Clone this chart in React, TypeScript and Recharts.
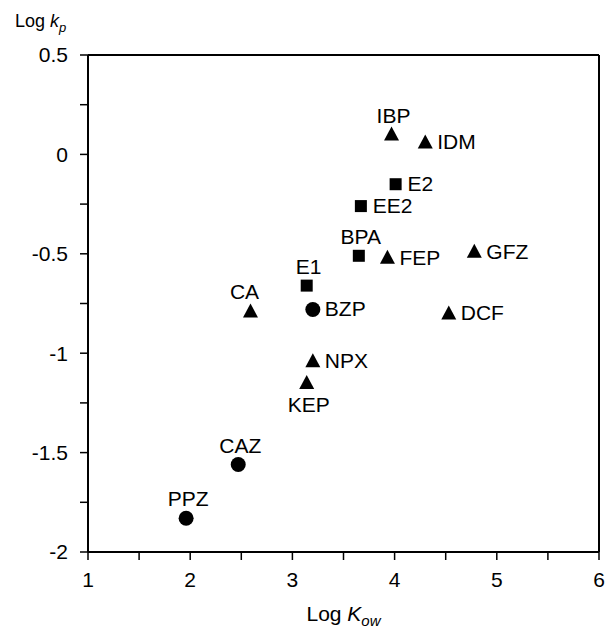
import { ScatterChart, Scatter, XAxis, YAxis, ReferenceLine } from "recharts";

// Log Kow (x) vs Log kp (y), grouped by marker shape
const triangleNames = ["IBP", "IDM", "FEP", "GFZ", "CA", "DCF", "NPX", "KEP"];
const triangleLogKow = [3.97, 4.3, 3.93, 4.78, 2.59, 4.53, 3.2, 3.14];
const triangleLogKp = [0.1, 0.06, -0.52, -0.49, -0.79, -0.8, -1.04, -1.15];

const squareNames = ["E2", "EE2", "BPA", "E1"];
const squareLogKow = [4.01, 3.67, 3.65, 3.14];
const squareLogKp = [-0.15, -0.26, -0.51, -0.66];

const circleNames = ["BZP", "CAZ", "PPZ"];
const circleLogKow = [3.2, 2.47, 1.96];
const circleLogKp = [-0.78, -1.56, -1.83];

const xTicks = [1, 1.5, 2, 2.5, 3, 3.5, 4, 4.5, 5, 5.5, 6];
const yTicks = [-2, -1.75, -1.5, -1.25, -1, -0.75, -0.5, -0.25, 0, 0.25, 0.5];

// where each compound's name sits relative to its marker
const labelSide: Record<string, "top" | "right" | "bottom"> = {
  IBP: "top",
  BPA: "top",
  E1: "top",
  CA: "top",
  CAZ: "top",
  PPZ: "top",
  KEP: "bottom",
};

const FONT = "'Liberation Sans', Arial, Helvetica, sans-serif";

const toRows = (names: string[], xs: number[], ys: number[]) =>
  names.map((name, i) => ({ name, x: xs[i], y: ys[i] }));

const triangles = toRows(triangleNames, triangleLogKow, triangleLogKp);
const squares = toRows(squareNames, squareLogKow, squareLogKp);
const circles = toRows(circleNames, circleLogKow, circleLogKp);

function PointLabel({ cx, cy, name }: { cx: number; cy: number; name: string }) {
  const side = labelSide[name] || "right";
  let x = cx + 12;
  let y = cy + 7;
  let anchor: "start" | "middle" = "start";
  if (side === "top") {
    x = name === "CA" ? cx - 6 : cx + 2;
    y = cy - 12;
    anchor = "middle";
  } else if (side === "bottom") {
    x = cx + 2;
    y = cy + 29;
    anchor = "middle";
  }
  return (
    <text x={x} y={y} textAnchor={anchor} fontSize={21} fontFamily={FONT} fill="#000">
      {name}
    </text>
  );
}

const makeShape = (kind: "triangle" | "square" | "circle") => (props: any) => {
  const { cx, cy, payload } = props;
  if (cx == null || cy == null) return <g />;
  let mark;
  if (kind === "triangle") {
    mark = <polygon points={`${cx},${cy - 8} ${cx + 7.5},${cy + 6} ${cx - 7.5},${cy + 6}`} fill="#000" />;
  } else if (kind === "square") {
    mark = <rect x={cx - 6} y={cy - 6} width={12} height={12} fill="#000" />;
  } else {
    mark = <circle cx={cx} cy={cy} r={7.5} fill="#000" />;
  }
  return (
    <g>
      {mark}
      <PointLabel cx={cx} cy={cy} name={payload.name} />
    </g>
  );
};

const XTitle = (props: any) => {
  const vb = props.viewBox || {};
  return (
    <text x={vb.x + vb.width / 2} y={vb.y + 69} textAnchor="middle" fontSize={21} fontFamily={FONT} fill="#000">
      Log{" "}
      <tspan fontStyle="italic">K</tspan>
      <tspan fontStyle="italic" fontSize={15} dy={5}>
        ow
      </tspan>
    </text>
  );
};

const YTitle = (props: any) => {
  const vb = props.viewBox || {};
  return (
    <text x={vb.x + 15} y={vb.y - 28} fontSize={18} fontFamily={FONT} fill="#000">
      Log{" "}
      <tspan fontStyle="italic">k</tspan>
      <tspan fontStyle="italic" fontSize={13} dy={5}>
        p
      </tspan>
    </text>
  );
};

export default function App() {
  return (
    <div style={{ position: "absolute", left: 0, top: 0, width: 616, height: 628, background: "#fff" }}>
      <ScatterChart width={616} height={628} margin={{ top: 55, right: 17, bottom: 0, left: 0 }}>
        <XAxis
          type="number"
          dataKey="x"
          domain={[1, 6]}
          ticks={xTicks}
          tickFormatter={(v: number) => (Number.isInteger(v) ? String(v) : "")}
          height={76}
          tickSize={8}
          tickMargin={12}
          axisLine={{ stroke: "#000", strokeWidth: 2 }}
          tickLine={{ stroke: "#000", strokeWidth: 1.5 }}
          tick={{ fill: "#000", fontSize: 21, fontFamily: FONT }}
          label={<XTitle />}
        />
        <YAxis
          type="number"
          dataKey="y"
          domain={[-2, 0.5]}
          ticks={yTicks}
          tickFormatter={(v: number) => (Number.isInteger(v * 2) ? String(v) : "")}
          width={88}
          tickSize={8}
          tickMargin={12}
          axisLine={{ stroke: "#000", strokeWidth: 2 }}
          tickLine={{ stroke: "#000", strokeWidth: 1.5 }}
          tick={{ fill: "#000", fontSize: 21, fontFamily: FONT }}
          label={<YTitle />}
        />
        <ReferenceLine y={0.5} stroke="#000" strokeWidth={2} />
        <ReferenceLine x={6} stroke="#000" strokeWidth={2} />
        <Scatter data={triangles} shape={makeShape("triangle")} isAnimationActive={false} />
        <Scatter data={squares} shape={makeShape("square")} isAnimationActive={false} />
        <Scatter data={circles} shape={makeShape("circle")} isAnimationActive={false} />
      </ScatterChart>
    </div>
  );
}
